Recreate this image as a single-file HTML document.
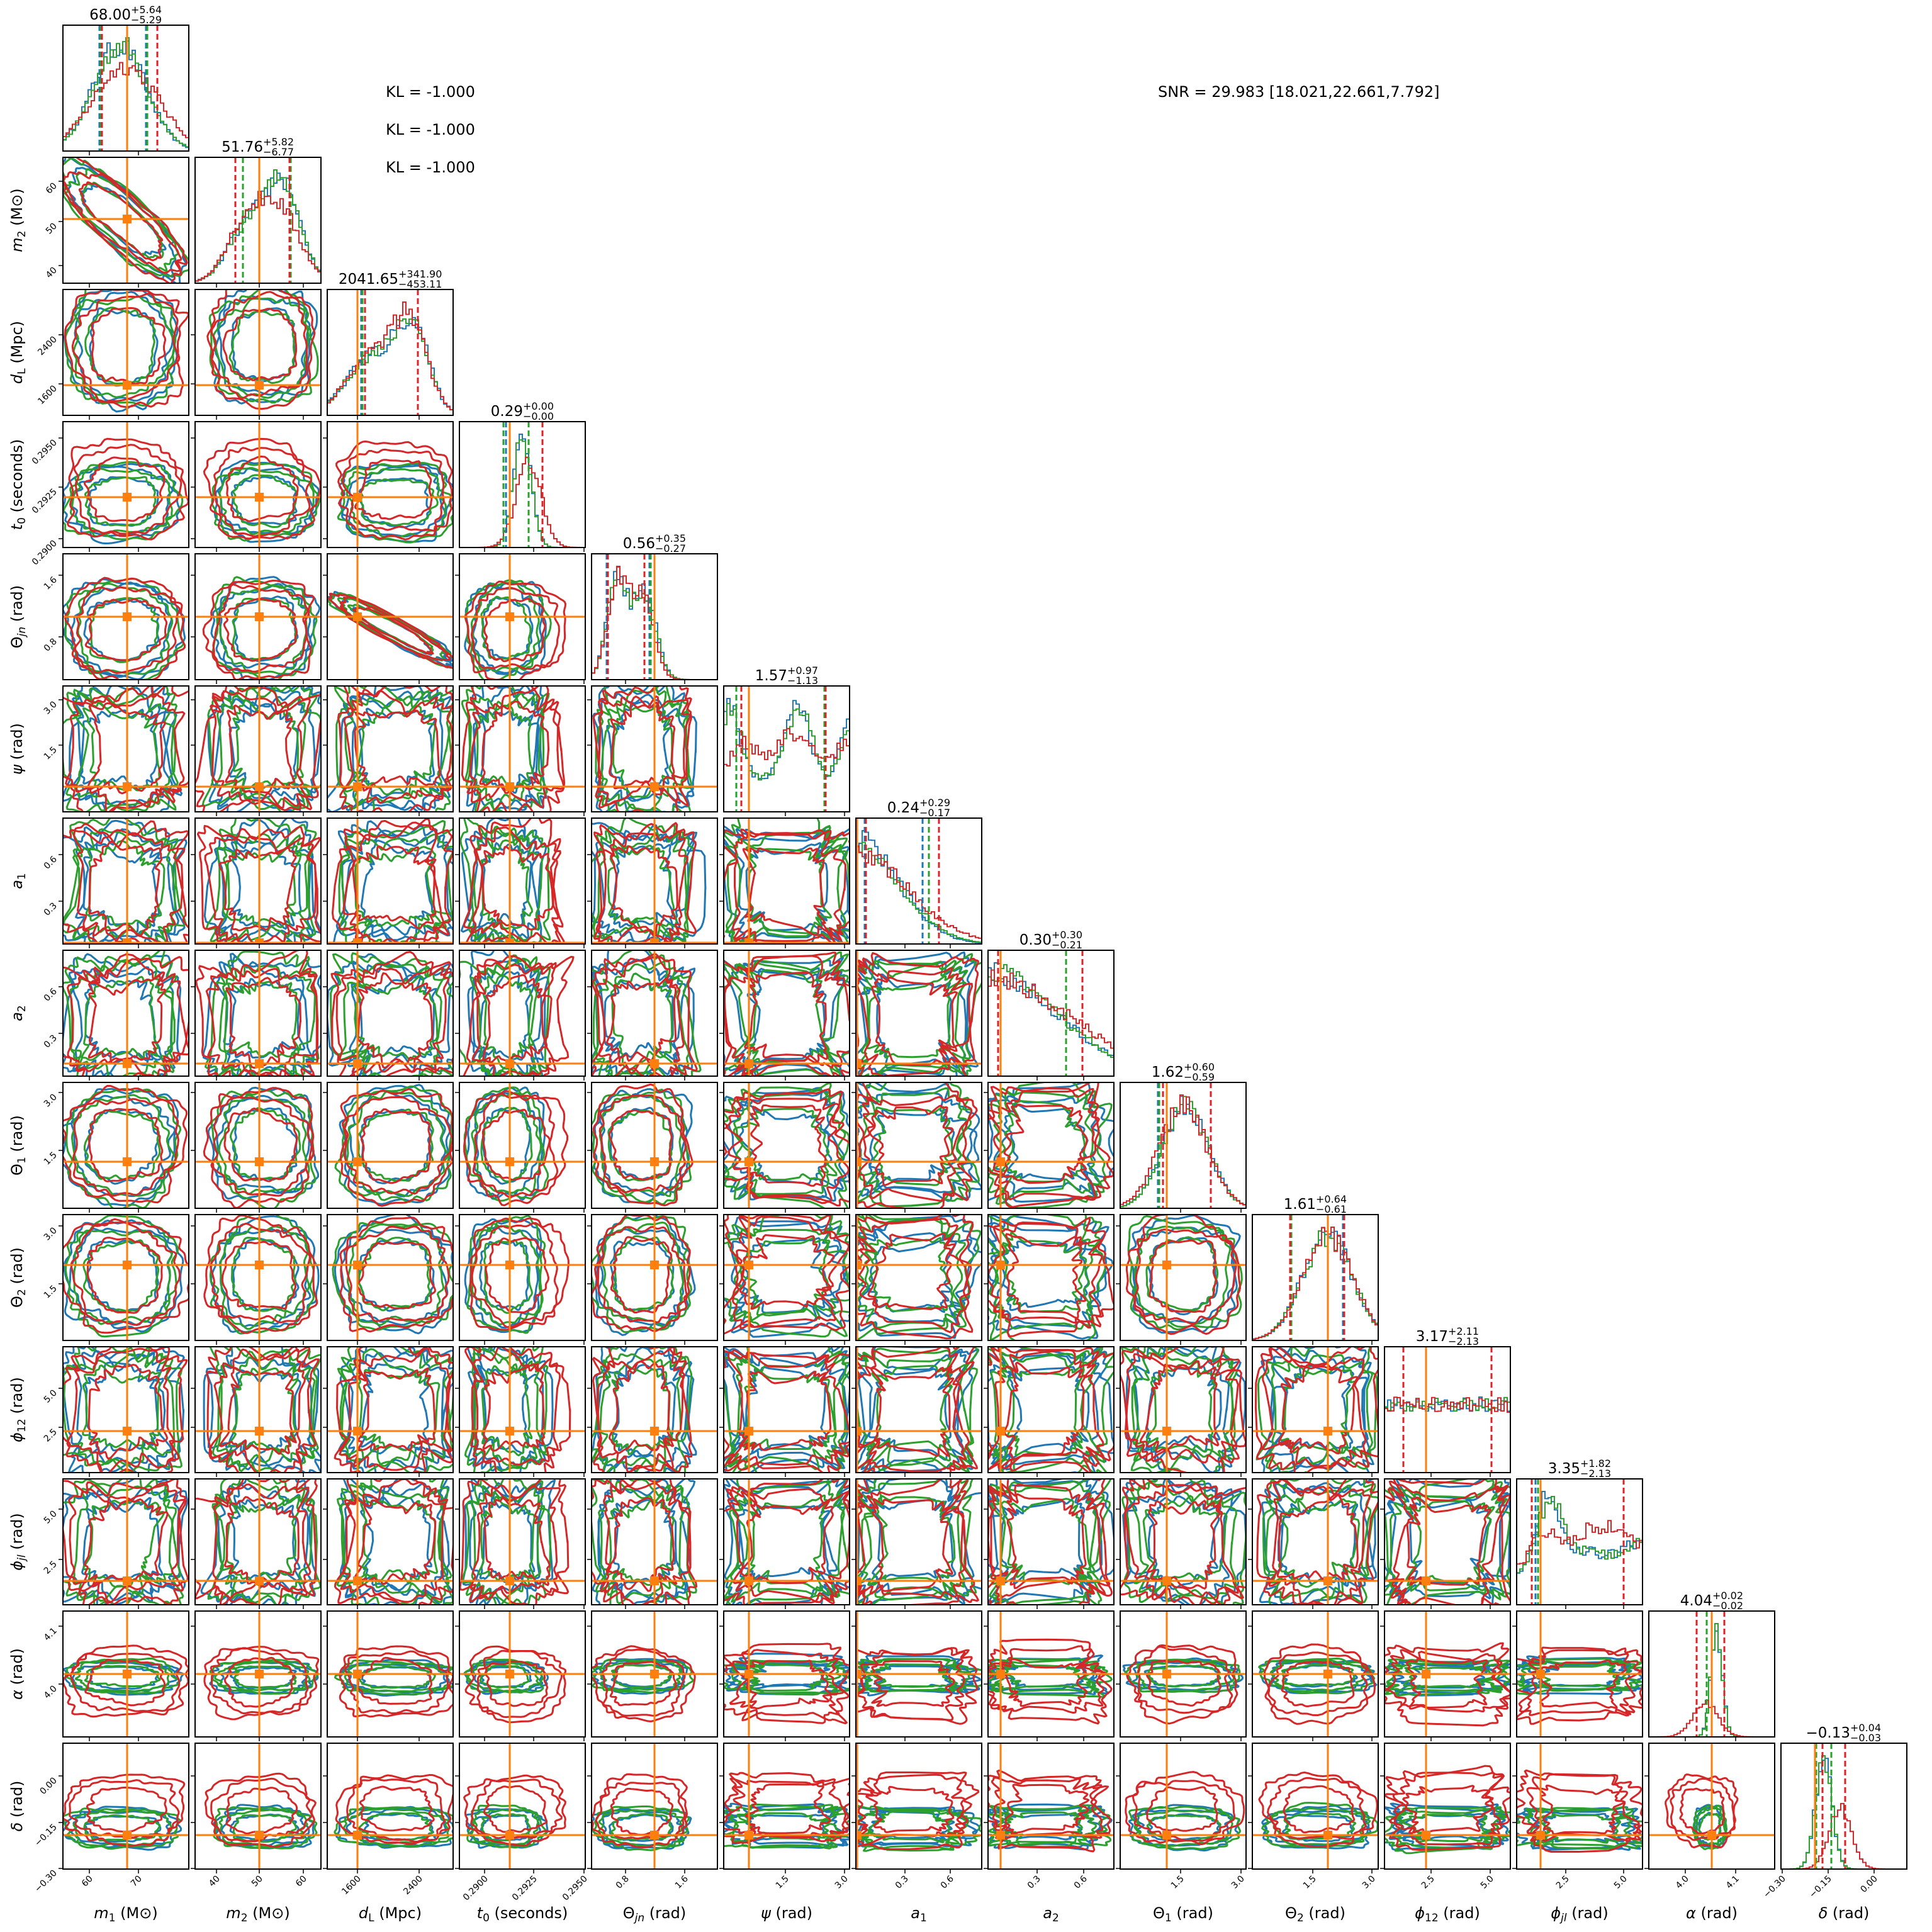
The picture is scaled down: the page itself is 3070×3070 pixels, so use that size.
<!DOCTYPE html>
<html><head><meta charset="utf-8">
<style>
html,body{margin:0;padding:0;background:#fff;}
svg{display:block;}
text{font-family:"DejaVu Sans","Liberation Sans",sans-serif;fill:#000;}
</style></head>
<body>
<svg id="g" xmlns="http://www.w3.org/2000/svg" width="3070" height="3070" viewBox="0 0 3070 3070">
<rect width="3070" height="3070" fill="#fff"/>
<g id="plots"></g>
<text x="613" y="154" font-size="24">KL = -1.000</text>
<text x="613" y="214" font-size="24">KL = -1.000</text>
<text x="613" y="274" font-size="24">KL = -1.000</text>
<text x="1840" y="154" font-size="24">SNR = 29.983 [18.021,22.661,7.792]</text>
<g font-size="23">
<text x="208" y="31" text-anchor="end">68.00</text><text x="208" y="21" font-size="16">+5.64</text><text x="208" y="37" font-size="16">−5.29</text>
<text x="418" y="241" text-anchor="end">51.76</text><text x="418" y="231" font-size="16">+5.82</text><text x="418" y="247" font-size="16">−6.77</text>
<text x="633" y="451" text-anchor="end">2041.65</text><text x="633" y="441" font-size="16">+341.90</text><text x="633" y="457" font-size="16">−453.11</text>
<text x="831" y="661" text-anchor="end">0.29</text><text x="831" y="651" font-size="16">+0.00</text><text x="831" y="667" font-size="16">−0.00</text>
<text x="1041" y="871" text-anchor="end">0.56</text><text x="1041" y="861" font-size="16">+0.35</text><text x="1041" y="877" font-size="16">−0.27</text>
<text x="1251" y="1081" text-anchor="end">1.57</text><text x="1251" y="1071" font-size="16">+0.97</text><text x="1251" y="1087" font-size="16">−1.13</text>
<text x="1461" y="1291" text-anchor="end">0.24</text><text x="1461" y="1281" font-size="16">+0.29</text><text x="1461" y="1297" font-size="16">−0.17</text>
<text x="1671" y="1501" text-anchor="end">0.30</text><text x="1671" y="1491" font-size="16">+0.30</text><text x="1671" y="1507" font-size="16">−0.21</text>
<text x="1881" y="1711" text-anchor="end">1.62</text><text x="1881" y="1701" font-size="16">+0.60</text><text x="1881" y="1717" font-size="16">−0.59</text>
<text x="2091" y="1921" text-anchor="end">1.61</text><text x="2091" y="1911" font-size="16">+0.64</text><text x="2091" y="1927" font-size="16">−0.61</text>
<text x="2301" y="2131" text-anchor="end">3.17</text><text x="2301" y="2121" font-size="16">+2.11</text><text x="2301" y="2137" font-size="16">−2.13</text>
<text x="2511" y="2341" text-anchor="end">3.35</text><text x="2511" y="2331" font-size="16">+1.82</text><text x="2511" y="2347" font-size="16">−2.13</text>
<text x="2721" y="2551" text-anchor="end">4.04</text><text x="2721" y="2541" font-size="16">+0.02</text><text x="2721" y="2557" font-size="16">−0.02</text>
<text x="2940" y="2761" text-anchor="end">−0.13</text><text x="2940" y="2751" font-size="16">+0.04</text><text x="2940" y="2767" font-size="16">−0.03</text>
</g>
<g font-size="24" text-anchor="middle">
<text x="200" y="3048"><tspan font-style="italic">m</tspan><tspan font-size="17" dy="5">1</tspan><tspan dy="-5"> (M⊙)</tspan></text>
<text x="410" y="3048"><tspan font-style="italic">m</tspan><tspan font-size="17" dy="5">2</tspan><tspan dy="-5"> (M⊙)</tspan></text>
<text x="620" y="3048"><tspan font-style="italic">d</tspan><tspan font-size="17" dy="5">L</tspan><tspan dy="-5"> (Mpc)</tspan></text>
<text x="830" y="3048"><tspan font-style="italic">t</tspan><tspan font-size="17" dy="5">0</tspan><tspan dy="-5"> (seconds)</tspan></text>
<text x="1040" y="3048">Θ<tspan font-size="17" dy="5" font-style="italic">jn</tspan><tspan dy="-5"> (rad)</tspan></text>
<text x="1250" y="3048"><tspan font-style="italic">ψ</tspan> (rad)</text>
<text x="1460" y="3048"><tspan font-style="italic">a</tspan><tspan font-size="17" dy="5">1</tspan></text>
<text x="1670" y="3048"><tspan font-style="italic">a</tspan><tspan font-size="17" dy="5">2</tspan></text>
<text x="1880" y="3048">Θ<tspan font-size="17" dy="5">1</tspan><tspan dy="-5"> (rad)</tspan></text>
<text x="2090" y="3048">Θ<tspan font-size="17" dy="5">2</tspan><tspan dy="-5"> (rad)</tspan></text>
<text x="2300" y="3048"><tspan font-style="italic">ϕ</tspan><tspan font-size="17" dy="5">12</tspan><tspan dy="-5"> (rad)</tspan></text>
<text x="2510" y="3048"><tspan font-style="italic">ϕ</tspan><tspan font-size="17" dy="5" font-style="italic">jl</tspan><tspan dy="-5"> (rad)</tspan></text>
<text x="2720" y="3048"><tspan font-style="italic">α</tspan> (rad)</text>
<text x="2930" y="3048"><tspan font-style="italic">δ</tspan> (rad)</text>
</g>
<g font-size="24" text-anchor="middle">
<text transform="translate(35,350) rotate(-90)"><tspan font-style="italic">m</tspan><tspan font-size="17" dy="5">2</tspan><tspan dy="-5"> (M⊙)</tspan></text>
<text transform="translate(35,560) rotate(-90)"><tspan font-style="italic">d</tspan><tspan font-size="17" dy="5">L</tspan><tspan dy="-5"> (Mpc)</tspan></text>
<text transform="translate(35,770) rotate(-90)"><tspan font-style="italic">t</tspan><tspan font-size="17" dy="5">0</tspan><tspan dy="-5"> (seconds)</tspan></text>
<text transform="translate(35,980) rotate(-90)">Θ<tspan font-size="17" dy="5" font-style="italic">jn</tspan><tspan dy="-5"> (rad)</tspan></text>
<text transform="translate(35,1190) rotate(-90)"><tspan font-style="italic">ψ</tspan> (rad)</text>
<text transform="translate(35,1400) rotate(-90)"><tspan font-style="italic">a</tspan><tspan font-size="17" dy="5">1</tspan></text>
<text transform="translate(35,1610) rotate(-90)"><tspan font-style="italic">a</tspan><tspan font-size="17" dy="5">2</tspan></text>
<text transform="translate(35,1820) rotate(-90)">Θ<tspan font-size="17" dy="5">1</tspan><tspan dy="-5"> (rad)</tspan></text>
<text transform="translate(35,2030) rotate(-90)">Θ<tspan font-size="17" dy="5">2</tspan><tspan dy="-5"> (rad)</tspan></text>
<text transform="translate(35,2240) rotate(-90)"><tspan font-style="italic">ϕ</tspan><tspan font-size="17" dy="5">12</tspan><tspan dy="-5"> (rad)</tspan></text>
<text transform="translate(35,2450) rotate(-90)"><tspan font-style="italic">ϕ</tspan><tspan font-size="17" dy="5" font-style="italic">jl</tspan><tspan dy="-5"> (rad)</tspan></text>
<text transform="translate(35,2660) rotate(-90)"><tspan font-style="italic">α</tspan> (rad)</text>
<text transform="translate(35,2870) rotate(-90)"><tspan font-style="italic">δ</tspan> (rad)</text>
</g>
<g id="ticklabels" font-size="14"></g>
</svg>
<script>
(function(){
var NS="http://www.w3.org/2000/svg";
var root=document.getElementById('plots');
var tl=document.getElementById('ticklabels');
var seed=12345;function rnd(){seed=(seed*16807)%2147483647;return seed/2147483647;}
var C={b:'#1f77b4',g:'#2ca02c',r:'#d62728',o:'#ff7f0e'};
var L=100,P=210,W=200,T=40;
function el(tag,a,p){var e=document.createElementNS(NS,tag);for(var k in a)e.setAttribute(k,a[k]);(p||root).appendChild(e);return e;}
var prm=[
{t:.51,c:.47,w:.44,rc:.5,rw:.47,xt:[[.21,'60'],[.6,'70']],yt:[],
 h:{b:[[1,.45,.21]],g:[[1,.46,.21]],r:[[.8,.5,.26]]},d:[[.29,.66],[.3,.67],[.31,.75]]},
{t:.51,c:.55,w:.4,rc:.52,rw:.43,xt:[[.17,'40'],[.51,'50'],[.86,'60']],yt:[[.19,'60'],[.51,'50'],[.86,'40']],
 h:{b:[[1,.7,.14],[.55,.4,.15]],g:[[1,.7,.14],[.55,.4,.15]],r:[[.75,.66,.17],[.5,.38,.15]]},d:[[.38,.75],[.38,.76],[.32,.75]]},
{t:.24,c:.55,w:.45,rc:.55,rw:.45,xt:[[.24,'1600'],[.73,'2400']],yt:[[.36,'2400'],[.75,'1600']],
 h:{b:[[1,.68,.13],[.7,.35,.2]],g:[[1,.68,.13],[.7,.35,.2]],r:[[1,.66,.14],[.7,.35,.2]]},d:[[.27,.72],[.28,.72],[.3,.72]]},
{t:.40,c:.37,w:.3,rc:.45,rw:.38,xt:[[.2,'0.2900'],[.59,'0.2925'],[.99,'0.2950']],yt:[[.13,'0.2950'],[.52,'0.2925'],[.93,'0.2900']],
 h:{b:[[1,.5,.07]],g:[[1,.5,.07]],r:[[.75,.55,.1]]},d:[[.37,.55],[.35,.55],[.4,.66]]},
{t:.50,c:.4,w:.38,rc:.4,rw:.38,xt:[[.27,'0.8'],[.74,'1.6']],yt:[[.17,'1.6'],[.66,'0.8']],
 h:{b:[[1,.2,.08],[.9,.42,.09]],g:[[1,.2,.08],[.9,.42,.09]],r:[[1,.2,.08],[.85,.4,.09]]},d:[[.12,.46],[.13,.47],[.13,.42]]},
{t:.20,c:.5,w:.48,rc:.5,rw:.48,uni:1,xt:[[.49,'1.5'],[.96,'3.0']],yt:[[.11,'3.0'],[.47,'1.5']],
 h:{b:[[1,.05,.08],[.95,.58,.1],[.9,1,.07],[.45,.5,1]],g:[[1,.05,.08],[.9,.6,.1],[.7,1,.07],[.45,.5,1]],r:[[.5,.15,.1],[.6,.55,.15],[.5,1,.12],[.45,.5,1]]},d:[[.1,.8],[.1,.8],[.14,.81]]},
{t:.01,c:.45,w:.47,rc:.45,rw:.47,uni:1,xt:[[.39,'0.3'],[.75,'0.6']],yt:[[.29,'0.6'],[.66,'0.3']],
 h:{b:[[1,0,.33]],g:[[.95,0,.35]],r:[[.85,0,.42]]},d:[[.07,.53],[.08,.58],[.08,.66]]},
{t:.10,c:.45,w:.47,rc:.45,rw:.47,uni:1,xt:[[.39,'0.3'],[.76,'0.6']],yt:[[.29,'0.6'],[.66,'0.3']],
 h:{b:[[1,0,.55]],g:[[1,0,.55]],r:[[.95,0,.65]]},d:[[.08,.62],[.08,.62],[.08,.75]]},
{t:.37,c:.5,w:.44,rc:.5,rw:.44,xt:[[.48,'1.5'],[.96,'3.0']],yt:[[.08,'3.0'],[.54,'1.5']],
 h:{b:[[1,.52,.18]],g:[[1,.52,.18]],r:[[1,.5,.19]]},d:[[.3,.72],[.31,.72],[.34,.72]]},
{t:.60,c:.52,w:.44,rc:.52,rw:.44,xt:[[.48,'1.5'],[.95,'3.0']],yt:[[.09,'3.0'],[.55,'1.5']],
 h:{b:[[1,.6,.2]],g:[[1,.6,.2]],r:[[1,.6,.2]]},d:[[.3,.72],[.31,.73],[.3,.73]]},
{t:.33,c:.5,w:.48,rc:.5,rw:.48,uni:1,hs:.6,xt:[[.37,'2.5'],[.84,'5.0']],yt:[[.33,'5.0'],[.64,'2.5']],
 h:{b:[[1,.5,3]],g:[[1,.5,3]],r:[[1,.5,3]]},d:[[.15,.85],[.15,.85],[.15,.85]]},
{t:.19,c:.5,w:.48,rc:.5,rw:.48,uni:1,xt:[[.39,'2.5'],[.85,'5.0']],yt:[[.24,'5.0'],[.64,'2.5']],
 h:{b:[[1,.25,.1],[.3,.55,.2],[.45,1,.15],[.4,.5,1]],g:[[1,.27,.1],[.3,.55,.2],[.45,1,.15],[.4,.5,1]],r:[[.5,.2,.12],[.55,.6,.2],[.4,.95,.2],[.4,.5,1]]},d:[[.15,.85],[.17,.85],[.12,.85]]},
{t:.50,c:.48,w:.13,rc:.43,rw:.28,xt:[[.29,'4.0'],[.69,'4.1']],yt:[[.12,'4.1'],[.58,'4.0']],
 h:{b:[[1,.54,.045]],g:[[1,.54,.045]],r:[[.32,.45,.1]]},d:[[.46,.6],[.46,.6],[.38,.6]]},
{t:.27,c:.33,w:.16,rc:.47,rw:.27,xt:[[.01,'−0.30'],[.375,'−0.15'],[.74,'0.00']],yt:[[.26,'0.00'],[.63,'−0.15'],[.995,'−0.30']],
 h:{b:[[1,.34,.065]],g:[[1,.34,.065]],r:[[.55,.47,.09]]},d:[[.28,.4],[.28,.4],[.33,.51]]}
];
function loop(cx,cy,rx,ry,rot,ex,ey,nz){
 var N=140,ph=[],am=[],s='';
 for(var k=2;k<=26;k++){ph.push(rnd()*6.283);am.push(nz*(k<6?1:0.55)/Math.sqrt(k)*(0.5+rnd()));}
 var cr=Math.cos(rot),sr=Math.sin(rot);
 for(var i=0;i<=N;i++){
  var t=6.2832*i/N,c=Math.cos(t),sn=Math.sin(t);
  var x=(c<0?-1:1)*Math.pow(Math.abs(c),ex)*rx,y=(sn<0?-1:1)*Math.pow(Math.abs(sn),ey)*ry;
  var n=1;for(var k=0;k<am.length;k++)n+=am[k]*Math.sin((k+2)*t+ph[k]);
  x*=n;y*=n;
  var X=cx+x*cr-y*sr,Y=cy+x*sr+y*cr;
  s+=(i?'L':'M')+X.toFixed(1)+','+Y.toFixed(1);
 }
 return s+'Z';
}
function dens(comps,x){var v=0;for(var i=0;i<comps.length;i++){var c=comps[i];v+=c[0]*Math.exp(-0.5*Math.pow((x-c[1])/c[2],2));}return v;}
var defs=el('defs',{});
for(var i=0;i<14;i++){
 for(var j=0;j<=i;j++){
  var x0=L+j*P,y0=T+i*P;
  var cp=el('clipPath',{id:'c'+i+'_'+j},defs);el('rect',{x:x0,y:y0,width:W,height:W},cp);
  var g=el('g',{'clip-path':'url(#c'+i+'_'+j+')'});
  if(i==j){
   var p=prm[j],nb=40,hs=p.hs||0.9,hh={},mx=0;
   ['b','g','r'].forEach(function(k){var a=[];for(var b=0;b<nb;b++){var v=dens(p.h[k],(b+.5)/nb)*(1+0.22*(rnd()-.5));a.push(v);if(v>mx)mx=v;}hh[k]=a;});
   ['b','g','r'].forEach(function(k,ci){
    var a=hh[k],bw=W/nb,s='M'+x0+','+(y0+W);
    for(var b=0;b<nb;b++){var yy=y0+W-a[b]/mx*hs*W;s+='V'+yy.toFixed(1)+'H'+(x0+(b+1)*bw).toFixed(1);}
    s+='V'+(y0+W);
    el('path',{d:s,fill:'none',stroke:C[k],'stroke-width':2},g);
   });
   ['b','g','r'].forEach(function(k,ci){p.d[ci].forEach(function(f){var xx=x0+f*W;el('line',{x1:xx,y1:y0,x2:xx,y2:y0+W,stroke:C[k],'stroke-width':3,'stroke-dasharray':'9,5'},g);});});
   var xo=x0+p.t*W;el('line',{x1:xo,y1:y0,x2:xo,y2:y0+W,stroke:C.o,'stroke-width':3},g);
  } else {
   var px=prm[j],py=prm[i];
   ['b','g','r'].forEach(function(k){
    var isr=k=='r';
    var cx=x0+(isr?px.rc:px.c)*W+(rnd()-.5)*4,cy=y0+(1-(isr?py.rc:py.c))*W+(rnd()-.5)*4;
    var rx=(isr?px.rw:px.w)*W,ry=(isr?py.rw:py.w)*W,rot=0;
    var ex=px.uni?0.3:0.75,ey=py.uni?0.3:0.75,nz=(px.uni||py.uni)?0.12:0.06;
    if(i==1&&j==0){cx=x0+.47*W;cy=y0+.5*W;rx=.64*W;ry=.2*W;rot=0.72;ex=ey=0.8;}
    if(i==4&&j==2){cx=x0+.52*W;cy=y0+.6*W;rx=.56*W;ry=.09*W;rot=0.5;ex=ey=0.8;}
    [1,.86,.62].forEach(function(s){
     el('path',{d:loop(cx,cy,rx*s,ry*s,rot,ex,ey,nz),fill:'none',stroke:C[k],'stroke-width':3,'stroke-linejoin':'round'},g);
    });
   });
   var xo=x0+px.t*W,yo=y0+(1-py.t)*W;
   el('line',{x1:xo,y1:y0,x2:xo,y2:y0+W,stroke:C.o,'stroke-width':3},g);
   el('line',{x1:x0,y1:yo,x2:x0+W,y2:yo,stroke:C.o,'stroke-width':3},g);
   el('rect',{x:xo-7,y:yo-7,width:14,height:14,fill:C.o},g);
  }
  el('rect',{x:x0,y:y0,width:W,height:W,fill:'none',stroke:'#000','stroke-width':2});
  prm[j].xt.forEach(function(t){var xx=x0+t[0]*W;el('line',{x1:xx,y1:y0+W,x2:xx,y2:y0+W+7,stroke:'#000','stroke-width':1.5});
   if(i==13){var tx=el('text',{x:0,y:0,'text-anchor':'end',transform:'translate('+(xx+6)+','+(y0+W+16)+') rotate(-45)'},tl);tx.textContent=t[1];}});
  if(i>j)prm[i].yt.forEach(function(t){var yy=y0+t[0]*W;el('line',{x1:x0-7,y1:yy,x2:x0,y2:yy,stroke:'#000','stroke-width':1.5});
   if(j==0){var tx=el('text',{x:0,y:0,'text-anchor':'end',transform:'translate('+(x0-9)+','+(yy+8)+') rotate(-45)'},tl);tx.textContent=t[1];}});
 }
}
})();
</script>
</body></html>
